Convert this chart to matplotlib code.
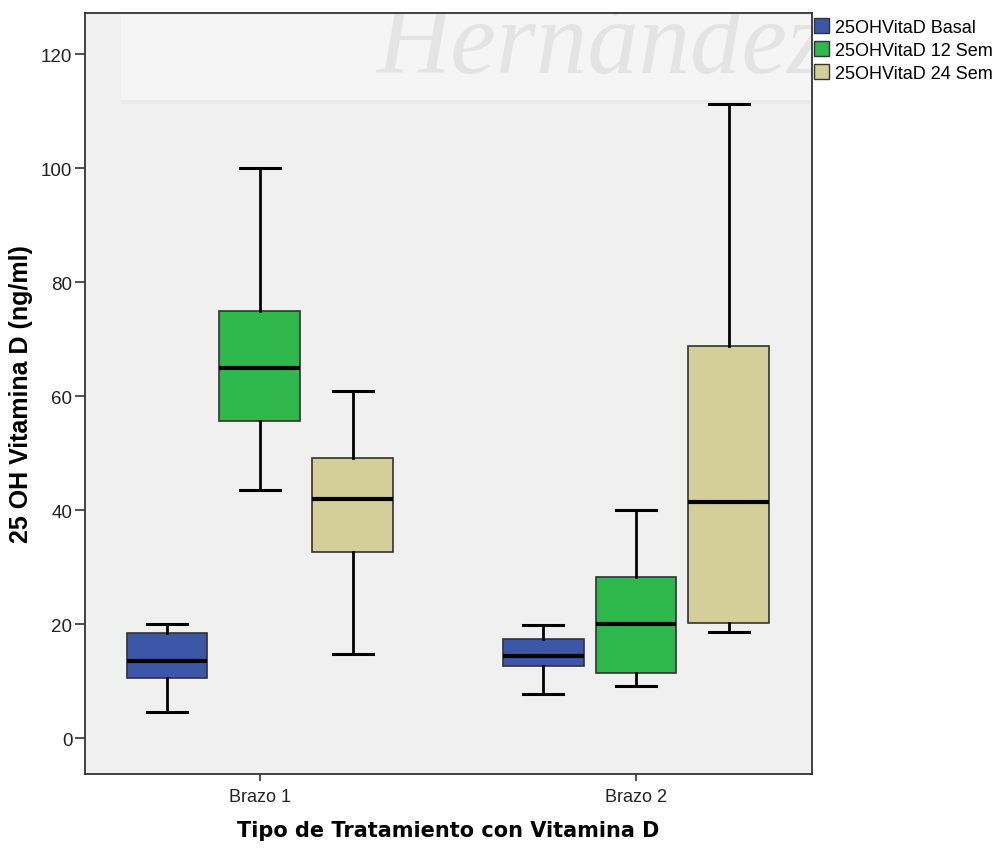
import matplotlib
matplotlib.use("Agg")
import matplotlib.pyplot as plt
from matplotlib.patches import Patch, Rectangle

# Five-number summaries per treatment arm and time point
arms = ["Brazo 1", "Brazo 2"]
series = ["25OHVitaD Basal", "25OHVitaD 12 Sem", "25OHVitaD 24 Sem"]
colors = ["#3C56A8", "#2FB84B", "#D3CE9A"]

whislo = [[4.6, 43.5, 14.7], [7.7, 9.2, 18.6]]
q1 = [[10.5, 55.6, 32.6], [12.7, 11.5, 20.2]]
med = [[13.5, 64.9, 41.9], [14.4, 20.0, 41.4]]
q3 = [[18.5, 74.9, 49.1], [17.4, 28.2, 68.8]]
whishi = [[20.0, 100.0, 60.9], [19.8, 40.0, 111.2]]

yticks = [0, 20, 40, 60, 80, 100, 120]

fig = plt.figure(figsize=(10, 8.54), dpi=100, facecolor="white")
ax = fig.add_axes([0.085, 1 - 775 / 854, (812 - 85) / 1000, (775 - 14) / 854])
ax.set_facecolor("#F0F0F0")

# faint watermark banner across the top of the plot area
ax.add_patch(Rectangle((0.05, 0.886), 0.95, 0.114, transform=ax.transAxes,
                       facecolor="#F5F5F5", edgecolor="none", zorder=0))
ax.add_patch(Rectangle((0.05, 0.880), 0.95, 0.006, transform=ax.transAxes,
                       facecolor="#EBEBEB", edgecolor="none", zorder=0))
ax.text(0.40, 0.955, "Hernández", transform=ax.transAxes, fontsize=74,
        family="Liberation Serif", style="italic", color="#E4E4E4",
        ha="left", va="center", zorder=0, clip_on=True)

offset = 0.247
width = 0.215
for i, arm in enumerate(arms):
    for j in range(3):
        stats = [dict(med=med[i][j], q1=q1[i][j], q3=q3[i][j],
                      whislo=whislo[i][j], whishi=whishi[i][j], fliers=[])]
        ax.bxp(stats, positions=[i + 1 + (j - 1) * offset], widths=width,
               patch_artist=True, showfliers=False, manage_ticks=False,
               boxprops=dict(facecolor=colors[j], edgecolor="#333333", linewidth=1.2),
               medianprops=dict(color="black", linewidth=3),
               whiskerprops=dict(color="black", linewidth=2),
               capprops=dict(color="black", linewidth=2.2),
               capwidths=width / 2)

ax.set_xlim(0.535, 2.468)
ax.set_ylim(-6.3, 127.2)
ax.set_xticks([1, 2])
ax.set_xticklabels(arms, fontsize=13, family="Liberation Sans", color="#222222")
ax.set_yticks(yticks)
ax.set_yticklabels([str(t) for t in yticks], fontsize=13.5, family="Liberation Sans",
                   color="#222222")
ax.tick_params(axis="y", length=7, width=1.2, color="#333333", pad=2)
ax.tick_params(axis="x", length=5, width=1.2, color="#333333", pad=5)
for s in ax.spines.values():
    s.set_color("#333333")
    s.set_linewidth(1.3)

ax.set_ylabel("25 OH Vitamina D (ng/ml)", fontsize=18, fontweight="bold",
              family=["Liberation Sans Narrow", "Liberation Sans"], labelpad=6)
ax.set_xlabel("Tipo de Tratamiento con Vitamina D", fontsize=15, fontweight="bold",
              family="DejaVu Sans", labelpad=11)

handles = [Patch(facecolor=c, edgecolor="#333333", linewidth=1) for c in colors]
fig.legend(handles, series, loc="upper left", bbox_to_anchor=(0.814, 0.978),
           frameon=False, prop=dict(family="Liberation Sans", size=13),
           handlelength=0.85, handleheight=0.9, handletextpad=0.3,
           labelspacing=0.3, borderaxespad=0, borderpad=0.0)

fig.savefig("out.png", dpi=100, facecolor="white")
